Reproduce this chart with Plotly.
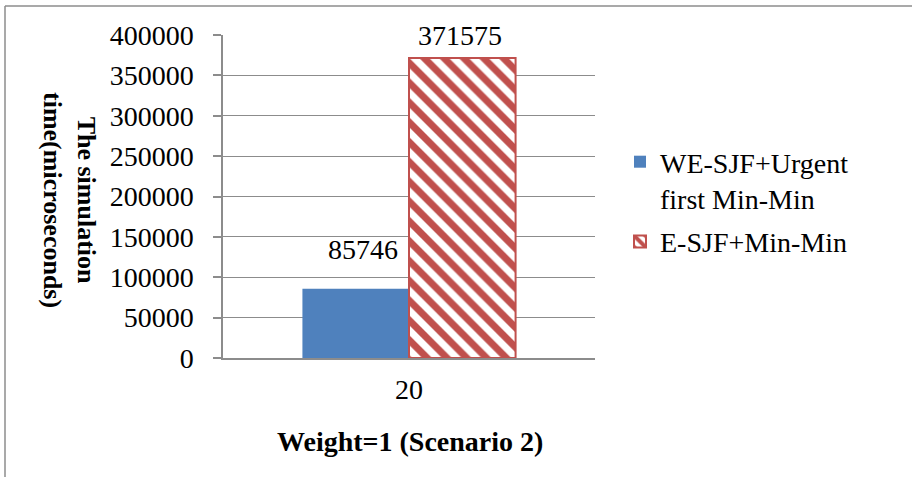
import plotly.graph_objects as go

categories = ["20"]
series_names = ["WE-SJF+Urgent<br>first Min-Min", "E-SJF+Min-Min"]
we_sjf = [85746]
e_sjf = [371575]
y_ticks = [0, 50000, 100000, 150000, 200000, 250000, 300000, 350000, 400000]

FONT = "Liberation Serif, Times New Roman, serif"
GRAY = "#8c8c8c"
FS = 28

W, H = 912, 477
L, R, T, B = 223, 317, 35, 119
PW, PH = W - L - R, H - T - B

def px(x):
    return (x - L) / PW

def py(y):
    return (H - B - y) / PH

fig = go.Figure()
fig.add_trace(go.Bar(
    x=categories, y=we_sjf, name=series_names[0], legendgroup="a",
    marker=dict(color="#4F81BD", line=dict(width=0)),
))
fig.add_trace(go.Bar(
    x=categories, y=e_sjf, name=series_names[1], legendgroup="b",
    marker=dict(color="white", line=dict(color="#C0504D", width=2),
                pattern=dict(shape="\\", fgcolor="#C0504D", bgcolor="white",
                             size=14, solidity=0.5, fgopacity=1)),
))

# data labels placed at the bar values (Excel-style positions)
label_specs = [(we_sjf, -46, 39), (e_sjf, 51, 22)]
annotations = []
for vals, xs, ys in label_specs:
    for i, v in enumerate(vals):
        annotations.append(dict(
            text=str(v), x=i, y=v, xref="x", yref="y", showarrow=False,
            xshift=xs, yshift=ys,
            font=dict(size=FS, family=FONT, color="black"),
            xanchor="center", yanchor="middle"))

annotations += [
    dict(text="<b>The simulation<br>time(microseconds)</b>", textangle=90,
         x=px(70), y=py(200), xref="paper", yref="paper", showarrow=False,
         font=dict(size=26, family=FONT), xanchor="center", yanchor="middle"),
    dict(text="<b>Weight=1 (Scenario 2)</b>",
         x=px(410), y=py(442), xref="paper", yref="paper", showarrow=False,
         font=dict(size=FS, family=FONT), xanchor="center", yanchor="middle"),
]

fig.update_layout(
    width=W, height=H,
    margin=dict(l=L, r=R, t=T, b=B, pad=0),
    paper_bgcolor="white", plot_bgcolor="white",
    barmode="group", bargap=0.427, bargroupgap=0,
    font=dict(family=FONT, size=FS, color="black"),
    showlegend=True,
    legend=dict(x=px(620), y=py(137), xanchor="left", yanchor="top",
                font=dict(size=FS, family=FONT), bgcolor="rgba(0,0,0,0)",
                itemwidth=30, tracegroupgap=4, valign="top"),
    xaxis=dict(type="category", range=[-0.5, len(categories) - 0.5],
               showline=True, linecolor=GRAY, linewidth=1.5,
               ticks="", tickfont=dict(size=FS, family=FONT), showgrid=False,
               ticklabelstandoff=6),
    yaxis=dict(range=[0, 400000], tickvals=y_ticks,
               ticktext=[str(v) for v in y_ticks],
               showgrid=True, gridcolor=GRAY, gridwidth=1.2,
               showline=True, linecolor=GRAY, linewidth=1.5,
               ticks="outside", ticklen=8, tickcolor=GRAY, tickwidth=1.5,
               tickfont=dict(size=FS, family=FONT), zeroline=False,
               ticklabelstandoff=14),
    annotations=annotations,
    shapes=[
        dict(type="line", xref="paper", yref="paper", x0=px(5), x1=px(912),
             y0=py(6), y1=py(6), line=dict(color=GRAY, width=1.5)),
        dict(type="line", xref="paper", yref="paper", x0=px(5), x1=px(5),
             y0=py(6), y1=py(477), line=dict(color=GRAY, width=1.5)),
    ],
)

fig.write_html("out.html", config={"displayModeBar": False},
               post_script="document.body.style.margin='0';")
